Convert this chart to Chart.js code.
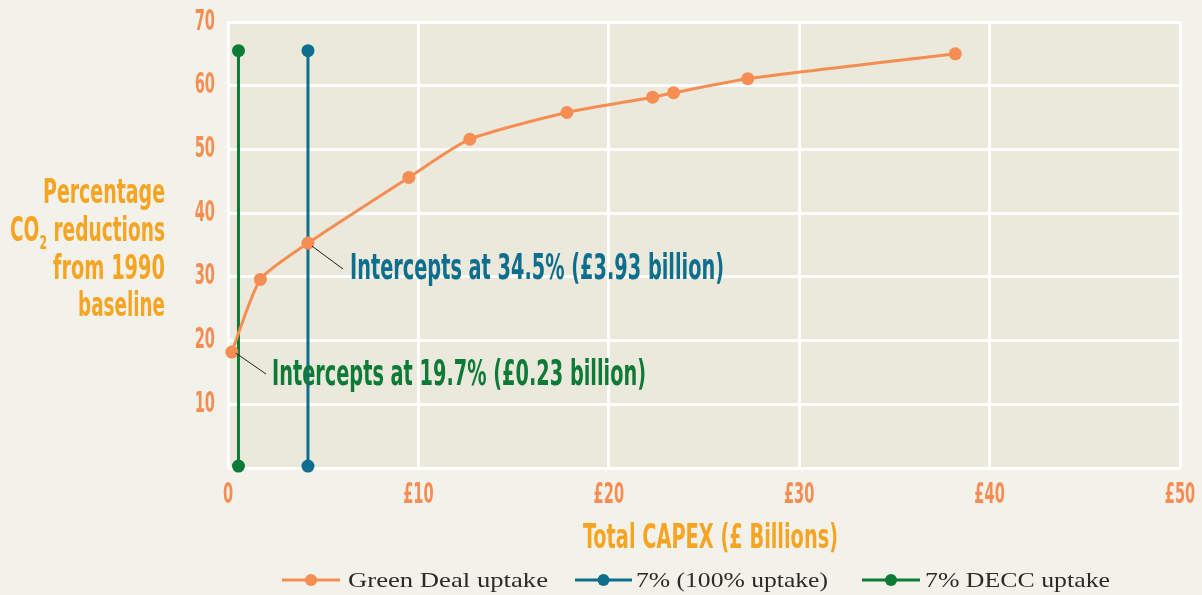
<!DOCTYPE html>
<html>
<head>
<meta charset="utf-8">
<script src="https://cdn.jsdelivr.net/npm/chart.js@4.4.1/dist/chart.umd.min.js"></script>
<style>
  html, body { margin: 0; padding: 0; background: #F3F2EA; }
  #chart { display: block; }
</style>
</head>
<body>
<canvas id="chart" width="1202" height="595"></canvas>
<script>
// Green Deal uptake curve: total capex (£bn) vs % CO2 reduction
const gdCapex = [0.2, 1.7, 4.2, 9.5, 12.7, 17.8, 22.3, 23.4, 27.3, 38.2];
const gdReduction = [18.2, 29.6, 35.3, 45.6, 51.6, 55.8, 58.2, 58.9, 61.1, 65.0];

// vertical 7% target lines
const fullUptakeCapex = [4.2, 4.2];
const fullUptakeRange = [0.3, 65.5];
const deccCapex = [0.55, 0.55];
const deccRange = [0.3, 65.5];

const seriesNames = ['Green Deal uptake', '7% (100% uptake)', '7% DECC uptake'];
const xTicks = [0, 10, 20, 30, 40, 50];
const yTicks = [10, 20, 30, 40, 50, 60, 70];

const ORANGE = '#F68D52';
const BLUE = '#0E6E8D';
const GREEN = '#0E7A37';
const TITLE = '#F6A423';
const NARROW = '"Liberation Sans Narrow", "DejaVu Sans Condensed", "Open Sans", sans-serif';
const SERIF = '"Liberation Serif", "DejaVu Serif", serif';

function toPoints(xs, ys) {
    return xs.map((x, i) => ({ x: x, y: ys[i] }));
}

// draw text squeezed/stretched to a given width (the source uses a narrow display face)
function fitText(ctx, text, left, baseline, width, font, color) {
    ctx.save();
    ctx.font = font;
    ctx.fillStyle = color;
    ctx.textAlign = 'left';
    ctx.textBaseline = 'alphabetic';
    const w = ctx.measureText(text).width;
    ctx.translate(left, baseline);
    ctx.scale(width / w, 1);
    ctx.fillText(text, 0, 0);
    ctx.restore();
}

// condensed tick label, scaled horizontally by a fixed factor
function narrowText(ctx, text, x, y, align, color) {
    ctx.save();
    ctx.font = 'bold 29px ' + NARROW;
    ctx.fillStyle = color;
    ctx.textAlign = align;
    ctx.textBaseline = 'middle';
    ctx.translate(x, y);
    ctx.scale(0.56, 1);
    ctx.fillText(text, 0, 0);
    ctx.restore();
}

const decorations = {
    id: 'decorations',
    beforeDraw(chart) {
        const { ctx, chartArea: a } = chart;
        ctx.save();
        ctx.fillStyle = '#EBE8DC';
        ctx.fillRect(a.left, a.top, a.right - a.left, a.bottom - a.top);
        ctx.restore();
    },
    afterDraw(chart) {
        const ctx = chart.ctx;
        const xs = chart.scales.x, ys = chart.scales.y;

        // tick labels
        yTicks.forEach(v => narrowText(ctx, String(v), 215, ys.getPixelForValue(v), 'right', ORANGE));
        xTicks.forEach(v => narrowText(ctx, v === 0 ? '0' : '£' + v, xs.getPixelForValue(v), 495, 'center', ORANGE));

        // y axis title, right aligned, with subscript 2
        const bold = 'bold 34px ' + NARROW;
        fitText(ctx, 'Percentage', 43, 203, 122, bold, TITLE);
        ctx.save();
        ctx.font = bold;
        const wCO = ctx.measureText('CO').width;
        const wRest = ctx.measureText(' reductions').width;
        ctx.font = 'bold 20px ' + NARROW;
        const wSub = ctx.measureText('2').width;
        const sx = 155 / (wCO + wSub + wRest);
        ctx.translate(10, 241);
        ctx.scale(sx, 1);
        ctx.fillStyle = TITLE;
        ctx.font = bold;
        ctx.fillText('CO', 0, 0);
        ctx.font = 'bold 20px ' + NARROW;
        ctx.fillText('2', wCO, 8);
        ctx.font = bold;
        ctx.fillText(' reductions', wCO + wSub, 0);
        ctx.restore();
        fitText(ctx, 'from 1990', 53, 279, 112, bold, TITLE);
        fitText(ctx, 'baseline', 78, 316, 87, bold, TITLE);

        // x axis title
        fitText(ctx, 'Total CAPEX (£ Billions)', 583, 548, 255, bold, TITLE);

        // callouts
        ctx.save();
        ctx.strokeStyle = '#222';
        ctx.lineWidth = 1;
        ctx.beginPath();
        ctx.moveTo(xs.getPixelForValue(gdCapex[2]) + 4, ys.getPixelForValue(gdReduction[2]) + 3);
        ctx.lineTo(343, 269);
        ctx.moveTo(xs.getPixelForValue(gdCapex[0]) + 4, ys.getPixelForValue(gdReduction[0]) + 1);
        ctx.lineTo(266, 374);
        ctx.stroke();
        ctx.restore();
        const callout = 'bold 36px ' + NARROW;
        fitText(ctx, 'Intercepts at 34.5% (£3.93 billion)', 350, 279, 374, callout, BLUE);
        fitText(ctx, 'Intercepts at 19.7% (£0.23 billion)', 272, 385, 374, callout, GREEN);

        // legend
        const items = [
            { x0: 282, x1: 340, tx: 348, tw: 200, color: ORANGE },
            { x0: 575, x1: 632, tx: 636, tw: 192, color: BLUE },
            { x0: 862, x1: 920, tx: 925, tw: 185, color: GREEN }
        ];
        items.forEach((it, i) => {
            ctx.save();
            ctx.strokeStyle = it.color;
            ctx.fillStyle = it.color;
            ctx.lineWidth = 3;
            ctx.beginPath();
            ctx.moveTo(it.x0, 580);
            ctx.lineTo(it.x1, 580);
            ctx.stroke();
            ctx.beginPath();
            ctx.arc((it.x0 + it.x1) / 2, 580, 6, 0, Math.PI * 2);
            ctx.fill();
            ctx.restore();
            fitText(ctx, seriesNames[i], it.tx, 587, it.tw, '22px ' + SERIF, '#2B2A28');
        });
    }
};

new Chart(document.getElementById('chart'), {
    type: 'scatter',
    data: {
        datasets: [
            {
                label: seriesNames[0],
                data: toPoints(gdCapex, gdReduction),
                showLine: true,
                borderColor: ORANGE,
                backgroundColor: ORANGE,
                borderWidth: 3,
                pointRadius: 6.5,
                pointBorderWidth: 0,
                tension: 0.2,
                clip: false
            },
            {
                label: seriesNames[1],
                data: toPoints(fullUptakeCapex, fullUptakeRange),
                showLine: true,
                borderColor: BLUE,
                backgroundColor: BLUE,
                borderWidth: 3,
                pointRadius: 6.5,
                pointBorderWidth: 0,
                clip: false
            },
            {
                label: seriesNames[2],
                data: toPoints(deccCapex, deccRange),
                showLine: true,
                borderColor: GREEN,
                backgroundColor: GREEN,
                borderWidth: 3,
                pointRadius: 6.5,
                pointBorderWidth: 0,
                clip: false
            }
        ]
    },
    options: {
        responsive: false,
        animation: false,
        layout: { padding: { top: 22, right: 22, bottom: 0, left: 0 } },
        plugins: { legend: { display: false }, tooltip: { enabled: false } },
        scales: {
            x: {
                type: 'linear',
                min: 0,
                max: 50,
                afterBuildTicks: s => { s.ticks = xTicks.map(v => ({ value: v })); },
                afterFit: s => { s.height = 127; },
                grid: { color: '#FFFFFF', lineWidth: 3, drawTicks: false },
                border: { display: false },
                ticks: { display: false }
            },
            y: {
                type: 'linear',
                min: 0,
                max: 70,
                afterBuildTicks: s => { s.ticks = [0].concat(yTicks).map(v => ({ value: v })); },
                afterFit: s => { s.width = 228; },
                grid: { color: '#FFFFFF', lineWidth: 3, drawTicks: false },
                border: { display: false },
                ticks: { display: false }
            }
        }
    },
    plugins: [decorations]
});
</script>
</body>
</html>
